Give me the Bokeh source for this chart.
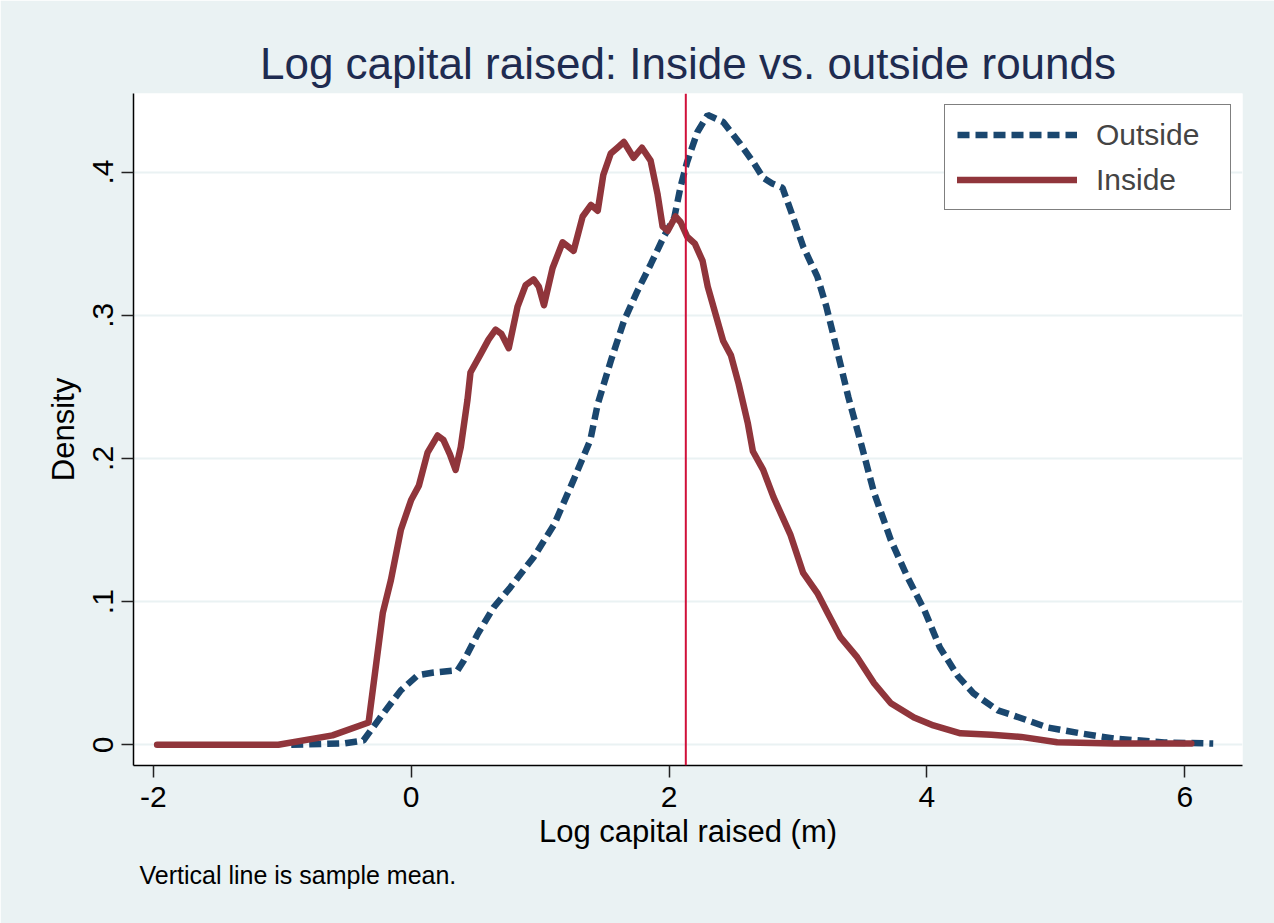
from bokeh.plotting import figure
from bokeh.models import Span, FixedTicker, Legend, LegendItem, Title
from bokeh.embed import file_html
from bokeh.resources import INLINE

# ---- data ----
inside_x = [-1.97, -1.5, -1.03, -0.61, -0.33, -0.22, -0.157, -0.08, 0.0, 0.06,
            0.127, 0.205, 0.25, 0.30, 0.345, 0.385, 0.437, 0.46, 0.54, 0.60,
            0.655, 0.70, 0.757, 0.825, 0.888, 0.95, 0.99, 1.03, 1.097, 1.175,
            1.26, 1.33, 1.395, 1.447, 1.49, 1.548, 1.6, 1.65, 1.725, 1.79,
            1.857, 1.91, 1.95, 1.99, 2.05, 2.09, 2.14, 2.2, 2.26, 2.3,
            2.36, 2.42, 2.48, 2.54, 2.61, 2.65, 2.73, 2.81, 2.94, 3.04,
            3.15, 3.23, 3.33, 3.46, 3.59, 3.72, 3.9, 4.05, 4.26, 4.5,
            4.73, 5.01, 5.45, 6.05]
inside_y = [0.0, 0.0, 0.0, 0.0066, 0.0156, 0.092, 0.115, 0.15, 0.171, 0.181,
            0.204, 0.216, 0.213, 0.203, 0.192, 0.208, 0.241, 0.26, 0.273, 0.283,
            0.29, 0.287, 0.277, 0.306, 0.321, 0.325, 0.32, 0.307, 0.333, 0.351,
            0.345, 0.369, 0.377, 0.373, 0.398, 0.413, 0.417, 0.421, 0.41, 0.417,
            0.408, 0.385, 0.362, 0.359, 0.369, 0.365, 0.355, 0.35, 0.338, 0.32,
            0.301, 0.282, 0.272, 0.252, 0.225, 0.205, 0.192, 0.173, 0.147, 0.12,
            0.106, 0.092, 0.075, 0.061, 0.043, 0.029, 0.019, 0.0135, 0.008, 0.007,
            0.0055, 0.0018, 0.0009, 0.0009]

outside_x = [-0.93, -0.52, -0.37, -0.24, -0.08, 0.05, 0.175, 0.36, 0.41, 0.52,
             0.64, 0.77, 0.95, 1.11, 1.26, 1.39, 1.447, 1.548, 1.65, 1.755,
             1.86, 1.96, 2.04, 2.09, 2.14, 2.22, 2.3, 2.42, 2.55, 2.66,
             2.73, 2.8, 2.88, 2.96, 3.04, 3.15, 3.22, 3.31, 3.39, 3.49,
             3.59, 3.72, 3.85, 3.98, 4.1, 4.24, 4.36, 4.55, 4.67, 4.94,
             5.19, 5.45, 5.84, 6.22]
outside_y = [0.0, 0.001, 0.003, 0.019, 0.038, 0.0485, 0.0505, 0.052, 0.059, 0.078,
             0.096, 0.11, 0.131, 0.154, 0.185, 0.213, 0.238, 0.268, 0.296, 0.317,
             0.336, 0.355, 0.368, 0.39, 0.407, 0.428, 0.44, 0.435, 0.42, 0.406,
             0.396, 0.392, 0.389, 0.369, 0.348, 0.327, 0.306, 0.273, 0.243, 0.21,
             0.176, 0.143, 0.117, 0.094, 0.068, 0.048, 0.036, 0.024, 0.0205, 0.012,
             0.008, 0.0044, 0.0016, 0.0009]

sample_mean = 2.13

x_ticks = [-2, 0, 2, 4, 6]
x_tick_labels = ["-2", "0", "2", "4", "6"]
y_ticks = [0, 0.1, 0.2, 0.3, 0.4]
y_tick_labels = ["0", ".1", ".2", ".3", ".4"]

series_labels = ["Outside", "Inside"]

# ---- styling ----
FONT = "Liberation Sans"
BG = "#EAF2F3"
NAVY = "#1A476F"
CRANBERRY = "#90353B"

p = figure(width=1274, height=923, output_backend="svg", toolbar_location=None,
           x_range=(-2.153, 6.447), y_range=(-0.01447, 0.4549),
           min_border_left=133, min_border_right=32,
           min_border_top=93, min_border_bottom=158)

p.background_fill_color = "white"
p.border_fill_color = BG
p.outline_line_color = None

p.title.text = "Log capital raised: Inside vs. outside rounds"
p.title.align = "center"
p.title.text_font = FONT
p.title.text_font_size = "44px"
p.title.text_font_style = "normal"
p.title.text_color = "#1E2B50"
p.title.standoff = 11

p.xaxis.ticker = FixedTicker(ticks=x_ticks)
p.xaxis.major_label_overrides = dict(zip(x_ticks, x_tick_labels))
p.yaxis.ticker = FixedTicker(ticks=y_ticks)
p.yaxis.major_label_overrides = dict(zip(y_ticks, y_tick_labels))
p.yaxis.major_label_orientation = "vertical"

for ax in (p.xaxis, p.yaxis):
    ax.axis_line_color = "black"
    ax.axis_line_width = 1.5
    ax.major_tick_line_color = "#222222"
    ax.major_tick_line_width = 1.5
    ax.major_tick_out = 12
    ax.major_tick_in = 0
    ax.minor_tick_line_color = None
    ax.major_label_text_font = FONT
    ax.major_label_text_font_size = "30px"
    ax.major_label_text_color = "black"
    ax.axis_label_text_font = FONT
    ax.axis_label_text_font_size = "31px"
    ax.axis_label_text_font_style = "normal"
    ax.axis_label_text_color = "black"

p.xaxis.axis_label = "Log capital raised (m)"
p.yaxis.axis_label = "Density"
p.xaxis.major_label_standoff = 9
p.yaxis.major_label_standoff = 8
p.xaxis.axis_label_standoff = 4
p.yaxis.axis_label_standoff = 10

p.xgrid.visible = False
p.ygrid.grid_line_color = BG
p.ygrid.grid_line_width = 2

r_out = p.line(outside_x, outside_y, line_color=NAVY, line_width=6.5,
               line_dash="12 6")
r_in = p.line(inside_x, inside_y, line_color=CRANBERRY, line_width=6.5,
              line_join="round", line_cap="round")

p.add_layout(Span(location=sample_mean, dimension="height",
                  line_color="#D0103A", line_width=2))

legend = Legend(items=[LegendItem(label=series_labels[0], renderers=[r_out]),
                       LegendItem(label=series_labels[1], renderers=[r_in])],
                location="top_right", margin=11, padding=12, spacing=10,
                glyph_width=120, glyph_height=35, label_height=35,
                label_width=122, label_standoff=19,
                label_text_font=FONT, label_text_font_size="30px",
                border_line_color="black", border_line_width=1.5,
                background_fill_color="white", background_fill_alpha=1.0)
p.add_layout(legend)

note = Title(text="Vertical line is sample mean.", align="left", offset=6,
             text_font=FONT, text_font_size="25px", text_font_style="normal",
             text_color="black", standoff=14)
p.add_layout(note, "below")

open("out.html", "w").write(file_html(p, INLINE))
